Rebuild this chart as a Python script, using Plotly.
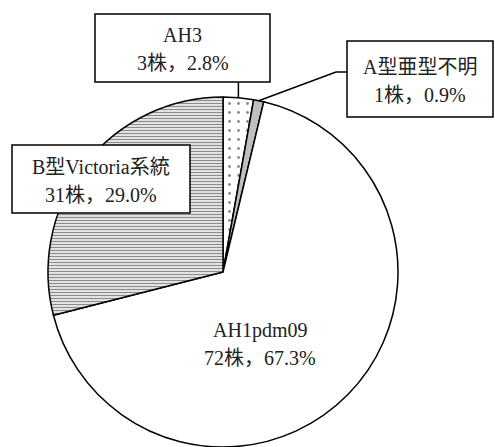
import math
import plotly.graph_objects as go

# Influenza isolates by type / subtype
labels = ["AH3", "A型亜型不明", "AH1pdm09", "B型Victoria系統"]
counts = [3, 1, 72, 31]

total = sum(counts)
percents = [c / total * 100 for c in counts]

W, H = 495, 447
CX, CY, R = 223, 272, 175  # pie centre / radius in pixels (from top-left)
FONT = "Liberation Serif, Noto Sans CJK JP, serif"
FSIZE = 20


def px(x):
    return x / W


def py(y):
    return 1 - y / H


fig = go.Figure()
fig.add_trace(go.Pie(
    labels=labels,
    values=counts,
    sort=False,
    direction="clockwise",
    rotation=0,
    textinfo="none",
    hoverinfo="skip",
    showlegend=False,
    domain=dict(x=[px(CX - R), px(CX + R)], y=[py(CY + R), py(CY - R)]),
    marker=dict(
        colors=["white", "#bfbfbf", "white", "white"],
        line=dict(color="black", width=1.5),
        pattern=dict(
            shape=[".", "", "", "-"],
            fgcolor=["#8a8a8a", "#bfbfbf", "white", "#8c8c8c"],
            bgcolor=["white", "#bfbfbf", "white", "white"],
            size=[9, 8, 8, 3],
            solidity=[0.08, 0.3, 0.3, 0.5],
        ),
    ),
))


def slice_mid(i):
    """Clockwise angle (radians, from 12 o'clock) of the middle of slice i."""
    start = sum(counts[:i]) / total
    frac = start + counts[i] / total / 2
    return frac * 2 * math.pi


def edge_point(i):
    a = slice_mid(i)
    return CX + R * math.sin(a), CY - R * math.cos(a)


def line_text(i):
    return f"{counts[i]}株，{percents[i]:.1f}%"


shapes = []
annotations = []

# label boxes: (slice index, x0, y0, x1, y1, first-line y, second-line y)
boxes = [
    (0, 95, 14, 270, 82, 35, 63),
    (1, 347, 41, 493, 117, 67, 95),
    (3, 12, 145, 190, 213, 167, 195),
]
for i, x0, y0, x1, y1, ly1, ly2 in boxes:
    shapes.append(dict(type="rect", xref="paper", yref="paper",
                       x0=px(x0), x1=px(x1), y0=py(y1), y1=py(y0),
                       fillcolor="white", line=dict(color="black", width=1.5),
                       layer="above"))
    cx = (x0 + x1) / 2
    for yy, txt in ((ly1, labels[i]), (ly2, line_text(i))):
        annotations.append(dict(x=px(cx), y=py(yy), xref="paper", yref="paper",
                                text=txt, showarrow=False, xanchor="center",
                                yanchor="middle",
                                font=dict(family=FONT, size=FSIZE, color="#222")))

# leader lines
ex, ey = edge_point(0)
shapes.append(dict(type="line", xref="paper", yref="paper",
                   x0=px(ex), x1=px(ex), y0=py(82), y1=py(ey),
                   line=dict(color="black", width=1.5), layer="above"))
ex, ey = edge_point(1)
shapes.append(dict(type="path", xref="paper", yref="paper",
                   path=f"M {px(ex)},{py(ey)} L {px(336)},{py(72)} L {px(347)},{py(72)}",
                   line=dict(color="black", width=1.5), layer="above"))

# label inside the large slice
for yy, txt in ((330, labels[2]), (358, line_text(2))):
    annotations.append(dict(x=px(260), y=py(yy), xref="paper", yref="paper",
                            text=txt, showarrow=False, xanchor="center",
                            yanchor="middle",
                            font=dict(family=FONT, size=FSIZE, color="#222")))

fig.update_layout(
    width=W, height=H,
    margin=dict(l=0, r=0, t=0, b=0),
    paper_bgcolor="white",
    plot_bgcolor="white",
    shapes=shapes,
    annotations=annotations,
)

fig.write_html("out.html")
